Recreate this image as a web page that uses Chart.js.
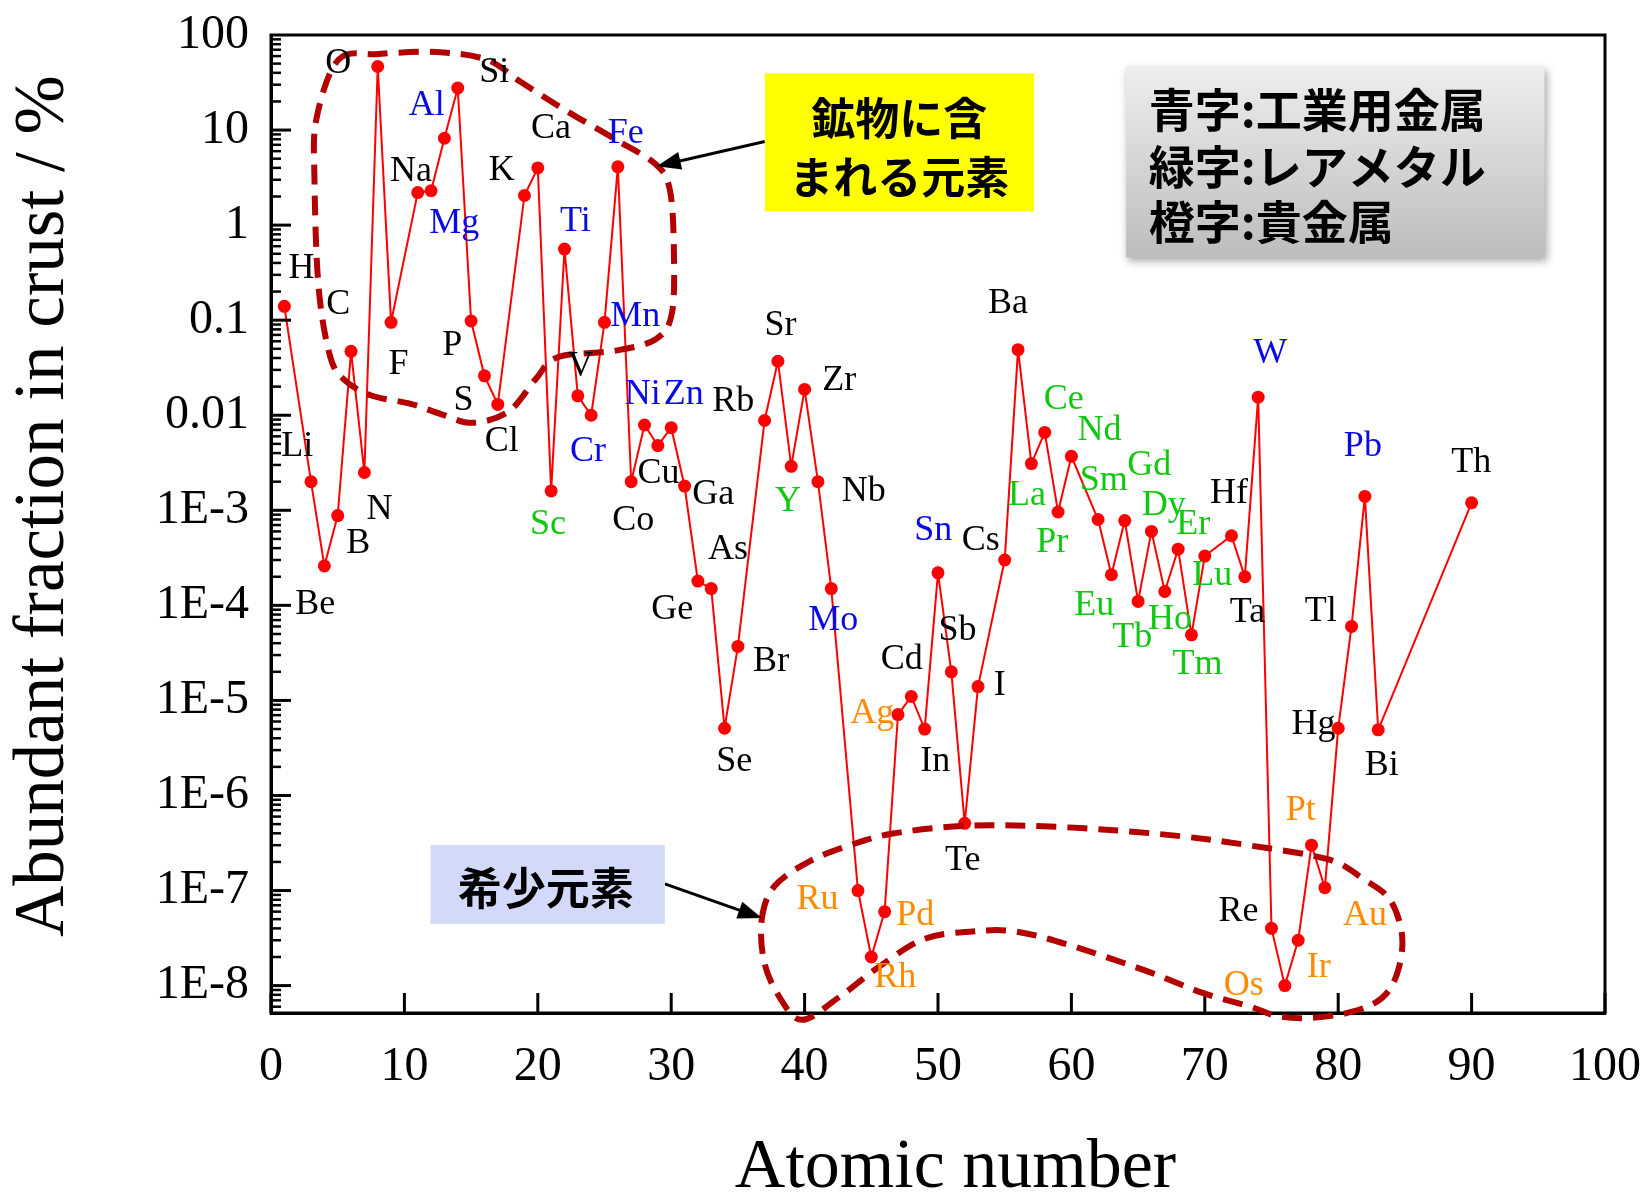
<!DOCTYPE html>
<html>
<head>
<meta charset="utf-8">
<script src="https://cdn.jsdelivr.net/npm/chart.js@4.4.1/dist/chart.umd.min.js"></script>
<style>
  html, body { margin: 0; padding: 0; background: #fff; }
</style>
</head>
<body>
<canvas id="chart" width="1650" height="1200"></canvas>
<script>
// === Datos: abundancia en la corteza (%) por número atómico ===
const atomicNumbers = [1, 3, 4, 5, 6, 7, 8, 9, 11, 12, 13, 14, 15, 16, 17, 19, 20, 21, 22, 23, 24, 25, 26, 27, 28, 29, 30,
  31, 32, 33, 34, 35, 37, 38, 39, 40, 41, 42, 44, 45, 46, 47, 48, 49, 50, 51, 52, 53, 55, 56, 57, 58, 59, 60,
  62, 63, 64, 65, 66, 67, 68, 69, 70, 72, 73, 74, 75, 76, 77, 78, 79, 80, 81, 82, 83, 90];
const abundance = [0.14, 0.002, 2.6e-4, 8.8e-4, 0.047, 0.0025, 46.6, 0.095, 2.2, 2.3, 8.2, 27.7, 0.098, 0.026, 0.013,
  2.05, 4.0, 0.0016, 0.56, 0.016, 0.010, 0.095, 4.1, 0.002, 0.0079, 0.0048, 0.0074,
  0.0018, 1.8e-4, 1.5e-4, 5.1e-6, 3.7e-5, 0.0088, 0.037, 0.0029, 0.0187, 0.002, 1.5e-4, 1e-7, 2e-8, 6e-8,
  7.1e-6, 1.1e-5, 5e-6, 2.2e-4, 2e-5, 5.1e-7, 1.4e-5, 3.0e-4, 0.049, 0.0031, 0.0066, 9.6e-4, 0.0037,
  8e-4, 2.1e-4, 7.8e-4, 1.1e-4, 6e-4, 1.4e-4, 3.9e-4, 4.9e-5, 3.3e-4, 5.4e-4, 2e-4, 0.0155,
  4e-8, 1e-8, 3e-8, 3e-7, 1.07e-7, 5.1e-6, 6e-5, 1.4e-3, 4.9e-6, 1.2e-3];

// etiquetas de elementos: grupo k=otros, b=metal industrial, g=metal raro, o=metal precioso
const labelText = ['H', 'Li', 'Be', 'B', 'C', 'N', 'O', 'F', 'Na', 'Mg', 'Al', 'Si', 'P', 'S', 'Cl', 'K', 'Ca', 'Sc', 'Ti', 'V',
  'Cr', 'Mn', 'Fe', 'Co', 'Ni', 'Zn', 'Cu', 'Rb', 'Ga', 'Sr', 'Zr', 'Y', 'Nb', 'As', 'Ge', 'Br', 'Se', 'Mo', 'Cd', 'Ag',
  'In', 'Sn', 'Sb', 'Cs', 'I', 'Te', 'Ba', 'Ce', 'La', 'Nd', 'Pr', 'Sm', 'Gd', 'Dy', 'Er', 'Hf', 'Eu', 'Tb', 'Ho', 'Lu',
  'Tm', 'Ta', 'W', 'Pb', 'Th', 'Tl', 'Hg', 'Bi', 'Pt', 'Re', 'Au', 'Ir', 'Os', 'Ru', 'Pd', 'Rh'];
const labelGroup = ['k', 'k', 'k', 'k', 'k', 'k', 'k', 'k', 'k', 'b', 'b', 'k', 'k', 'k', 'k', 'k', 'k', 'g', 'b', 'k',
  'b', 'b', 'b', 'k', 'b', 'b', 'k', 'k', 'k', 'k', 'k', 'g', 'k', 'k', 'k', 'k', 'k', 'b', 'k', 'o',
  'k', 'b', 'k', 'k', 'k', 'k', 'k', 'g', 'g', 'g', 'g', 'g', 'g', 'g', 'g', 'k', 'g', 'g', 'g', 'g',
  'g', 'k', 'b', 'b', 'k', 'k', 'k', 'k', 'o', 'k', 'o', 'o', 'o', 'o', 'o', 'o'];
const labelZ = [2.29, 1.97, 3.31, 6.55, 5.05, 8.13, 5.05, 9.55, 10.5, 13.73, 11.68, 16.73, 13.58, 14.44, 17.29, 17.29, 20.99, 20.76, 22.81, 23.2,
  23.76, 27.3, 26.6, 27.15, 27.86, 30.94, 29.05, 34.65, 33.15, 38.2, 42.6, 38.75, 44.44, 34.26, 30.07, 37.49, 34.72, 42.15, 47.28, 45.07,
  49.8, 49.64, 51.46, 53.2, 54.62, 51.85, 55.25, 59.43, 56.67, 62.11, 58.56, 62.43, 65.83, 66.93, 69.14, 71.82, 61.72, 64.56, 67.4, 70.56,
  69.46, 73.2, 74.9, 81.85, 89.98, 78.69, 78.14, 83.27, 77.19, 72.53, 82.0, 78.54, 72.92, 40.96, 48.3, 46.8];
const labelLog = [-0.46, -2.33, -3.99, -3.35, -0.84, -2.99, 1.70, -1.47, 0.56, 0.02, 1.26, 1.61, -1.27, -1.85, -2.28, 0.57, 1.02, -3.15, 0.04, -1.49,
  -2.38, -0.96, 0.96, -3.11, -1.78, -1.78, -2.61, -1.86, -2.83, -1.06, -1.63, -2.91, -2.8, -3.41, -4.04, -4.59, -5.64, -4.16, -4.57, -5.14,
  -5.64, -3.21, -4.27, -3.32, -4.84, -6.68, -0.83, -1.84, -2.85, -2.16, -3.34, -2.69, -2.53, -2.95, -3.15, -2.82, -4.0, -4.34, -4.15, -3.69,
  -4.62, -4.08, -1.35, -2.33, -2.5, -4.06, -5.25, -5.69, -6.16, -7.22, -7.26, -7.81, -8.0, -7.09, -7.26, -7.91];

// ejes
const xTickValues = [0, 10, 20, 30, 40, 50, 60, 70, 80, 90, 100];
const yTickValues = [1e-8, 1e-7, 1e-6, 1e-5, 1e-4, 1e-3, 0.01, 0.1, 1, 10, 100];
const yTickLabels = ['1E-8', '1E-7', '1E-6', '1E-5', '1E-4', '1E-3', '0.01', '0.1', '1', '10', '100'];

// contornos punteados (Z, log10 %)
const mineralOutline = [[5.06, 1.74], [8.06, 1.80], [12.42, 1.82], [16.17, 1.74], [18.79, 1.50], [22.17, 1.20], [25.84, 0.90],
  [28.84, 0.64], [29.9, 0.37], [30.2, -0.26], [30.05, -0.93], [28.84, -1.20], [25.84, -1.32], [21.49, -1.39], [19.84, -1.62],
  [17.82, -1.96], [15.12, -2.08], [12.79, -1.99], [10.47, -1.88], [7.46, -1.79], [5.44, -1.62], [4.39, -1.36], [3.56, -0.64],
  [3.26, 0.48], [3.41, 1.12]];
const rareOutline = [[36.8, -7.29], [37.77, -6.95], [40.4, -6.69], [43.48, -6.52], [46.62, -6.40], [51.8, -6.32], [56.9, -6.32],
  [62.6, -6.36], [68.3, -6.43], [73.1, -6.52], [79.2, -6.67], [81.9, -6.88], [83.9, -7.10], [84.8, -7.49], [84.4, -7.88],
  [83.2, -8.14], [80.9, -8.28], [77.9, -8.34], [75.4, -8.32], [73.4, -8.22], [69.9, -8.08], [65.5, -7.84],
  [59.76, -7.57], [55.77, -7.43], [52.6, -7.43], [48.95, -7.51], [45.5, -7.81], [42.6, -8.12], [39.8, -8.36], [38.07, -8.11],
  [36.95, -7.74]];

const groupColor = { k: '#000000', b: '#0a0ae6', g: '#10c810', o: '#ff8a00' };
const serif = '"Liberation Serif", "Times New Roman", serif';
const cjk = '"Noto Sans CJK JP", sans-serif';

const points = atomicNumbers.map((z, i) => ({ x: z, y: abundance[i] }));

// === Plugin: marco, marcas de ejes, contornos, cuadros y etiquetas ===
const decoraciones = {
  id: 'decoraciones',
  afterDatasetsDraw(chart) {
    const ctx = chart.ctx;
    const xs = chart.scales.x, ys = chart.scales.y;
    const { left, right, top, bottom } = chart.chartArea;
    const px = z => xs.getPixelForValue(z);
    const py = l => ys.getPixelForValue(Math.pow(10, l));

    ctx.save();
    // marco
    ctx.strokeStyle = '#000';
    ctx.lineWidth = 3;
    ctx.strokeRect(left, top, right - left, bottom - top);

    // marcas hacia dentro en y (mayores y menores)
    for (let e = -9; e <= 1; e++) {
      for (let m = 1; m <= 9; m++) {
        const v = m * Math.pow(10, e);
        if (v < ys.min || v > ys.max) continue;
        const y = ys.getPixelForValue(v);
        ctx.lineWidth = m === 1 ? 3 : 2.5;
        ctx.beginPath();
        ctx.moveTo(left, y);
        ctx.lineTo(left + (m === 1 ? 20 : 10), y);
        ctx.stroke();
      }
    }
    // marcas en x
    ctx.lineWidth = 3;
    xTickValues.forEach(v => {
      const x = px(v);
      ctx.beginPath();
      ctx.moveTo(x, bottom);
      ctx.lineTo(x, bottom - 20);
      ctx.stroke();
    });

    // contornos punteados
    const spline = pts => {
      const p = pts.map(([z, l]) => ({ x: px(z), y: py(l) }));
      const n = p.length;
      ctx.beginPath();
      ctx.moveTo(p[0].x, p[0].y);
      for (let i = 0; i < n; i++) {
        const p0 = p[(i - 1 + n) % n], p1 = p[i], p2 = p[(i + 1) % n], p3 = p[(i + 2) % n];
        ctx.bezierCurveTo(p1.x + (p2.x - p0.x) / 6, p1.y + (p2.y - p0.y) / 6,
          p2.x - (p3.x - p1.x) / 6, p2.y - (p3.y - p1.y) / 6, p2.x, p2.y);
      }
      ctx.closePath();
      ctx.stroke();
    };
    ctx.strokeStyle = '#b30000';
    ctx.lineWidth = 6;
    ctx.setLineDash([20, 11]);
    spline(mineralOutline);
    spline(rareOutline);
    ctx.setLineDash([]);

    // flechas
    const arrow = (z0, l0, z1, l1) => {
      const x0 = px(z0), y0 = py(l0), x1 = px(z1), y1 = py(l1);
      const a = Math.atan2(y1 - y0, x1 - x0);
      ctx.strokeStyle = '#000';
      ctx.fillStyle = '#000';
      ctx.lineWidth = 3;
      ctx.beginPath();
      ctx.moveTo(x0, y0);
      ctx.lineTo(x1 - 18 * Math.cos(a), y1 - 18 * Math.sin(a));
      ctx.stroke();
      ctx.beginPath();
      ctx.moveTo(x1, y1);
      ctx.lineTo(x1 - 24 * Math.cos(a) + 9 * Math.sin(a), y1 - 24 * Math.sin(a) - 9 * Math.cos(a));
      ctx.lineTo(x1 - 24 * Math.cos(a) - 9 * Math.sin(a), y1 - 24 * Math.sin(a) + 9 * Math.cos(a));
      ctx.closePath();
      ctx.fill();
    };
    arrow(37.02, 0.88, 28.92, 0.62);
    arrow(29.52, -6.93, 36.8, -7.29);

    // cuadro amarillo
    ctx.fillStyle = '#ffff00';
    ctx.fillRect(px(37.02), py(1.597), px(57.2) - px(37.02), py(0.146) - py(1.597));
    ctx.fillStyle = '#000';
    ctx.font = 'bold 44px ' + cjk;
    ctx.textAlign = 'center';
    ctx.textBaseline = 'middle';
    ctx.fillText('鉱物に含', px(47.1), py(1.124));
    ctx.fillText('まれる元素', px(47.1), py(0.504));

    // cuadro azul
    ctx.fillStyle = '#d3daf9';
    ctx.fillRect(px(11.96), py(-6.52), px(29.52) - px(11.96), py(-7.35) - py(-6.52));
    ctx.fillStyle = '#000';
    ctx.fillText('希少元素', px(20.6), py(-6.98));

    // cuadro gris con sombra (leyenda de colores)
    const gx = px(64.1), gy = py(1.67), gw = px(95.47) - px(64.1), gh = py(-0.34) - py(1.67);
    const grad = ctx.createLinearGradient(0, gy, 0, gy + gh);
    grad.addColorStop(0, '#eeeeee');
    grad.addColorStop(1, '#bdbdbd');
    ctx.save();
    ctx.shadowColor = 'rgba(0,0,0,0.35)';
    ctx.shadowBlur = 8;
    ctx.shadowOffsetX = 2;
    ctx.shadowOffsetY = 4;
    ctx.fillStyle = grad;
    ctx.fillRect(gx, gy, gw, gh);
    ctx.restore();
    ctx.fillStyle = '#000';
    ctx.font = 'bold 46px ' + cjk;
    ctx.textAlign = 'left';
    ctx.fillText('青字:工業用金属', px(65.8), py(1.22));
    ctx.fillText('緑字:レアメタル', px(65.8), py(0.62));
    ctx.fillText('橙字:貴金属', px(65.8), py(0.04));

    // etiquetas de elementos
    ctx.font = '36px ' + serif;
    ctx.textAlign = 'center';
    labelText.forEach((t, i) => {
      ctx.fillStyle = groupColor[labelGroup[i]];
      ctx.fillText(t, px(labelZ[i]), py(labelLog[i]));
    });
    ctx.restore();
  }
};

new Chart(document.getElementById('chart'), {
  type: 'scatter',
  data: {
    datasets: [{
      data: points,
      showLine: true,
      borderColor: '#ff0000',
      borderWidth: 2,
      pointRadius: 6.5,
      pointBackgroundColor: '#ff0000',
      pointBorderWidth: 0
    }]
  },
  options: {
    responsive: false,
    animation: false,
    layout: { padding: { top: 35, right: 45, left: 0, bottom: 0 } },
    plugins: { legend: { display: false }, tooltip: { enabled: false } },
    scales: {
      x: {
        type: 'linear',
        min: 0,
        max: 100,
        afterBuildTicks: s => { s.ticks = xTickValues.map(v => ({ value: v })); },
        afterFit: s => { s.height = 187; s.paddingLeft = 0; s.paddingRight = 0; },
        grid: { display: false, drawTicks: false },
        border: { display: true, color: '#000', width: 3 },
        ticks: { color: '#000', padding: 26, font: { family: serif, size: 48 } },
        title: {
          display: true,
          text: '  Atomic number',
          color: '#000',
          padding: 0,
          font: { family: serif, size: 70, lineHeight: 0.9 }
        }
      },
      y: {
        type: 'logarithmic',
        min: 5.15e-9,
        max: 100,
        afterBuildTicks: s => { s.ticks = yTickValues.map(v => ({ value: v })); },
        afterFit: s => { s.width = 271; s.paddingTop = 0; s.paddingBottom = 0; },
        grid: { display: false, drawTicks: false },
        border: { display: true, color: '#000', width: 3 },
        ticks: {
          color: '#000',
          padding: 22,
          font: { family: serif, size: 48 },
          callback: (v, i) => yTickLabels[i]
        },
        title: {
          display: true,
          text: '  Abundant fraction in crust / %',
          color: '#000',
          padding: { top: 2, bottom: 0 },
          font: { family: serif, size: 71, lineHeight: 1.2 }
        }
      }
    }
  },
  plugins: [decoraciones]
});
</script>
</body>
</html>
